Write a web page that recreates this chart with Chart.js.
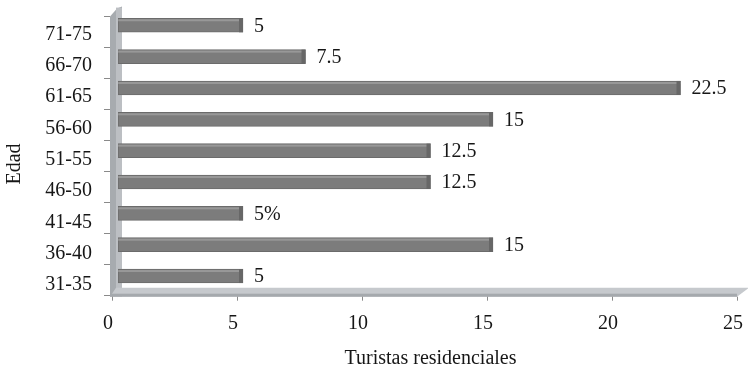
<!DOCTYPE html>
<html>
<head>
<meta charset="utf-8">
<script src="https://cdn.jsdelivr.net/npm/chart.js@4/dist/chart.umd.min.js"></script>
<style>
  html, body { margin: 0; padding: 0; background: #ffffff; }
  #wrap { width: 748px; height: 374px; }
</style>
</head>
<body>
<div id="wrap"><canvas id="c" width="748" height="374"></canvas></div>
<script>
// Age groups (bottom to top) and resident tourists per group
const ageGroups = ['31-35', '36-40', '41-45', '46-50', '51-55', '56-60', '61-65', '66-70', '71-75'];
const tourists = [5, 15, 5, 12.5, 12.5, 15, 22.5, 7.5, 5];
const valueLabels = ['5', '15', '5%', '12.5', '12.5', '15', '22.5', '7.5', '5'];
const xTicks = [0, 5, 10, 15, 20, 25];
const xTitle = 'Turistas residenciales';
const yTitle = 'Edad';

const FONT = 'Liberation Serif';
const TEXT = '#161616';
const FONT_SIZE = 20;
const PAD_BOTTOM = 3;

// Pseudo-3D frame: left wall, floor and the front tick marks
const DEPTH_X = 6;   // back plane is shifted right by this much
const DEPTH_Y = 9;   // and up by this much

const frame3d = {
  id: 'frame3d',
  beforeDatasetsDraw(chart) {
    const { ctx, chartArea: ca, scales: { x } } = chart;
    const backY = ca.bottom - 4;
    const frontY = backY + DEPTH_Y;
    const x0 = x.getPixelForValue(0);
    const xMax = x.getPixelForValue(25);
    const wallL = x0 - DEPTH_X - 2;
    ctx.save();

    // left wall
    ctx.fillStyle = '#a7abaf';
    ctx.beginPath();
    ctx.moveTo(wallL, ca.top + 7);
    ctx.lineTo(wallL + 7, ca.top - 1);
    ctx.lineTo(x0 + 4, ca.top - 3);
    ctx.lineTo(x0 + 4, frontY);
    ctx.lineTo(wallL, frontY);
    ctx.closePath();
    ctx.fill();
    ctx.fillStyle = '#bcbfc3';
    ctx.fillRect(x0 - 2, ca.top - 2, 6, frontY - ca.top);

    // floor
    ctx.fillStyle = '#c6c9cd';
    ctx.beginPath();
    ctx.moveTo(wallL, frontY);
    ctx.lineTo(wallL + DEPTH_X, backY);
    ctx.lineTo(xMax + 6, backY);
    ctx.lineTo(xMax - DEPTH_X, frontY);
    ctx.closePath();
    ctx.fill();
    ctx.fillStyle = '#a5a9ad';
    ctx.fillRect(wallL, frontY - 3, xMax - DEPTH_X - wallL, 3);

    // tick marks on the front edges
    ctx.strokeStyle = '#8a8a8a';
    ctx.lineWidth = 1;
    ctx.beginPath();
    xTicks.forEach(v => {
      const px = Math.round(x.getPixelForValue(v) - DEPTH_X) + 0.5;
      ctx.moveTo(px, frontY);
      ctx.lineTo(px, frontY + 4);
    });
    const fTop = ca.top + 6.4;
    const fBot = frontY - 2;
    for (let i = 0; i <= ageGroups.length; i++) {
      const py = Math.round(fTop + i * (fBot - fTop) / ageGroups.length) + 0.5;
      ctx.moveTo(wallL - 6, py);
      ctx.lineTo(wallL, py);
    }
    ctx.stroke();
    ctx.restore();
  },
  afterDatasetsDraw(chart) {
    const { ctx } = chart;
    const meta = chart.getDatasetMeta(0);
    ctx.save();
    meta.data.forEach((bar, i) => {
      const top = bar.y - bar.height / 2;
      // light top face of the bar
      ctx.fillStyle = 'rgba(255,255,255,0.22)';
      ctx.fillRect(bar.base, top + 1, bar.x - bar.base, 2);
      // darker end cap
      ctx.fillStyle = '#676767';
      ctx.fillRect(bar.x - 4, top, 4, bar.height);
      // value label
      ctx.fillStyle = TEXT;
      ctx.font = FONT_SIZE + 'px "' + FONT + '"';
      ctx.textAlign = 'left';
      ctx.textBaseline = 'middle';
      ctx.fillText(valueLabels[i], bar.x + 11, bar.y + 1);
    });
    // vertical axis title
    ctx.translate(15, 164);
    ctx.rotate(-Math.PI / 2);
    ctx.textAlign = 'center';
    ctx.fillText(yTitle, 0, 0);
    ctx.restore();
  }
};

new Chart(document.getElementById('c'), {
  type: 'bar',
  data: {
    labels: ageGroups,
    datasets: [{
      data: tourists,
      backgroundColor: '#7c7c7c',
      borderColor: '#6b6b6b',
      borderWidth: 1,
      borderSkipped: false,
      barThickness: 14
    }]
  },
  options: {
    indexAxis: 'y',
    responsive: false,
    animation: false,
    layout: { padding: { left: 0, right: 5, top: 9.6, bottom: PAD_BOTTOM } },
    plugins: { legend: { display: false }, tooltip: { enabled: false } },
    scales: {
      x: {
        min: 0,
        max: 25,
        afterBuildTicks: s => { s.ticks = xTicks.map(v => ({ value: v })); },
        ticks: {
          padding: 12,
          labelOffset: -10,
          autoSkip: false,
          maxRotation: 0,
          color: TEXT,
          font: { family: FONT, size: FONT_SIZE }
        },
        grid: { display: false },
        border: { display: false },
        title: {
          display: true,
          text: xTitle,
          color: TEXT,
          padding: 0,
          font: { family: FONT, size: FONT_SIZE }
        },
        afterFit: s => { s.height = 374 - PAD_BOTTOM - 291.7; s.paddingLeft = 0; s.paddingRight = 0; }
      },
      y: {
        reverse: true,
        offset: true,
        ticks: {
          padding: 18,
          labelOffset: 9,
          autoSkip: false,
          color: TEXT,
          font: { family: FONT, size: FONT_SIZE }
        },
        grid: { display: false },
        border: { display: false },
        afterFit: s => { s.width = 118; s.paddingTop = 0; s.paddingBottom = 0; }
      }
    }
  },
  plugins: [frame3d]
});
</script>
</body>
</html>
